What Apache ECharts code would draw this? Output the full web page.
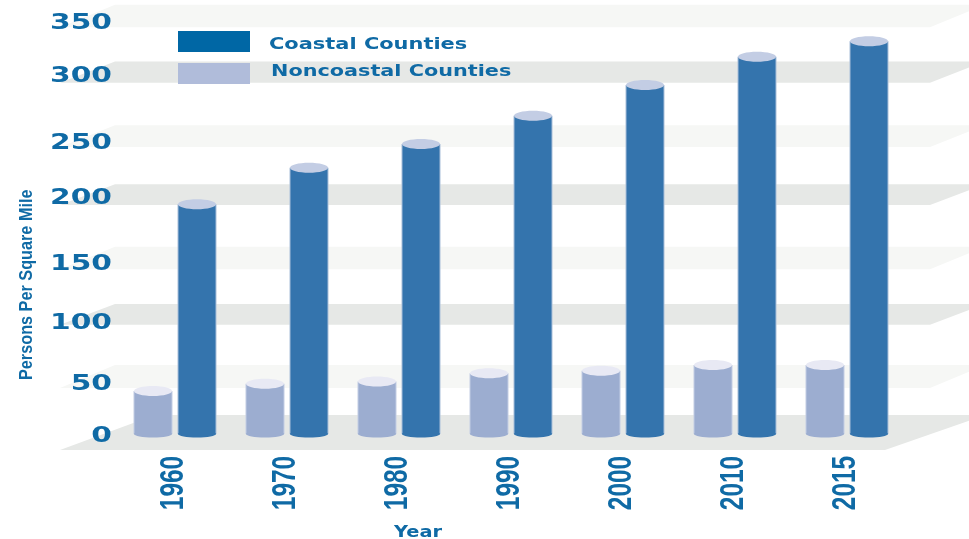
<!DOCTYPE html>
<html>
<head>
<meta charset="utf-8">
<style>html,body{margin:0;padding:0;background:#fff}#c{width:969px;height:539px}</style>
<script src="https://cdn.jsdelivr.net/npm/echarts@6/dist/echarts.min.js"></script>
</head>
<body>
<div id="c"></div>
<script>
const categories = ['1960','1970','1980','1990','2000','2010','2015'];
const coastal = [197,228,248,272,298,322,335];
const noncoastal = [39,45,47,54,56,61,61];
const tickLabels = ['0','50','100','150','200','250','300','350'];
const tickPlaces = [2,46,98,148,204,250.5,307,352];
const bandFront = [-11,41.5,95,142,196.5,245.5,300,347];
const bandBack = [18.6,61,112.6,161,214,264,318,366];
const bandColors = ['#e6e8e6','#f6f7f5','#e6e8e6','#f6f7f5','#e6e8e6','#f6f7f5','#e6e8e6','#f6f7f5'];
const ink = '#0f6aa5';

function cylinder(offset, body, top, edge){
  return function(params, api){
    const base = api.coord([api.value(0), 0]);
    const end = api.coord([api.value(0), api.value(1)]);
    const cx = base[0] + offset, rx = 19, floorY = base[1] - 3;
    return {type:'group', children:[
      {type:'rect', shape:{x:cx-rx-0.5, y:end[1], width:rx*2+1, height:floorY-end[1]}, style:{fill:edge}},
      {type:'ellipse', shape:{cx:cx, cy:floorY, rx:rx, ry:3.5}, style:{fill:body}},
      {type:'rect', shape:{x:cx-rx+0.5, y:end[1], width:rx*2-1, height:floorY-end[1]}, style:{fill:body}},
      {type:'ellipse', shape:{cx:cx, cy:end[1], rx:rx, ry:5}, style:{fill:top}}
    ]};
  };
}

function band(params, api){
  const i = params.dataIndex, g = params.coordSys;
  const f = api.coord([0, api.value(1)])[1], b = api.coord([0, api.value(2)])[1];
  const floor = i === 0;
  const pts = [
    [g.x - 59, f],
    [g.x + g.width + (floor ? -18 : 27), f],
    [g.x + g.width + 82, b],
    [g.x + (floor ? 36 : -4), b]
  ];
  return {type:'polygon', shape:{points:pts}, style:{fill:bandColors[i]}};
}

function yTick(params, api){
  const g = params.coordSys, y = api.coord([0, api.value(1)])[1];
  return {type:'text', x:g.x - 7, y:y + 2, scaleX:1.38,
    style:{text:tickLabels[params.dataIndex], fill:ink, font:'bold 21.5px "DejaVu Sans"', align:'right', verticalAlign:'middle'}};
}

function xTick(params, api){
  const g = params.coordSys, x = api.coord([api.value(0), 0])[0];
  return {type:'text', x:x - 1, y:g.y + g.height + 46, rotation:Math.PI/2, scaleX:0.74,
    style:{text:categories[params.dataIndex], fill:ink, font:'bold 33px "Liberation Sans"', align:'center', verticalAlign:'middle'}};
}

const chart = echarts.init(document.getElementById('c'), null, {renderer:'canvas'});
chart.setOption({
  animation:false,
  backgroundColor:'#fff',
  grid:{left:119, right:66, top:0, bottom:102, containLabel:false},
  legend:{
    orient:'vertical', left:178, top:31, itemWidth:72, itemHeight:21, itemGap:11,
    icon:'rect', selectedMode:false, padding:0, formatter:function(){return '';},
    data:[
      {name:'Coastal Counties', itemStyle:{color:'#0067a5'}},
      {name:'Noncoastal Counties', itemStyle:{color:'#b0bcda'}}
    ]
  },
  xAxis:{type:'category', data:categories, axisLine:{show:false}, axisTick:{show:false}, axisLabel:{show:false}},
  yAxis:{type:'value', min:0, max:370, axisLine:{show:false}, axisTick:{show:false}, splitLine:{show:false}, axisLabel:{show:false}},
  graphic:[
    {type:'text', x:269, y:45, scaleX:1.35, z:5, style:{text:'Coastal Counties', fill:ink, font:'bold 15.5px "DejaVu Sans"', verticalAlign:'middle'}},
    {type:'text', x:271, y:72, scaleX:1.34, z:5, style:{text:'Noncoastal Counties', fill:ink, font:'bold 15.5px "DejaVu Sans"', verticalAlign:'middle'}},
    {type:'text', x:394, y:533, scaleX:1.25, z:5, style:{text:'Year', fill:ink, font:'bold 15.5px "DejaVu Sans"', verticalAlign:'middle'}},
    {type:'text', x:27, y:380, rotation:Math.PI/2, scaleX:0.855, z:5, style:{text:'Persons Per Square Mile', fill:ink, font:'bold 19px "Liberation Sans"', verticalAlign:'middle'}}
  ],
  series:[
    {type:'custom', name:'bands', z:-1, silent:true, renderItem:band, encode:{x:0,y:1},
     data:bandFront.map((v,i)=>[0, v, bandBack[i]])},
    {type:'custom', name:'yTicks', z:5, silent:true, renderItem:yTick, encode:{x:0,y:1},
     data:tickPlaces.map(v=>[0, v])},
    {type:'custom', name:'xTicks', z:5, silent:true, renderItem:xTick, encode:{x:0,y:1},
     data:categories.map(c=>[c, 0])},
    {type:'custom', name:'Noncoastal Counties', z:3, renderItem:cylinder(-22,'#9cadd0','#e8e9f4','#c3cde4'),
     itemStyle:{color:'#b0bcda'}, encode:{x:0,y:1},
     data:categories.map((c,i)=>[c, noncoastal[i]])},
    {type:'custom', name:'Coastal Counties', z:3, renderItem:cylinder(22,'#3474ad','#c3cde4','#a9bfd9'),
     itemStyle:{color:'#0067a5'}, encode:{x:0,y:1},
     data:categories.map((c,i)=>[c, coastal[i]])}
  ]
});
</script>
</body>
</html>
